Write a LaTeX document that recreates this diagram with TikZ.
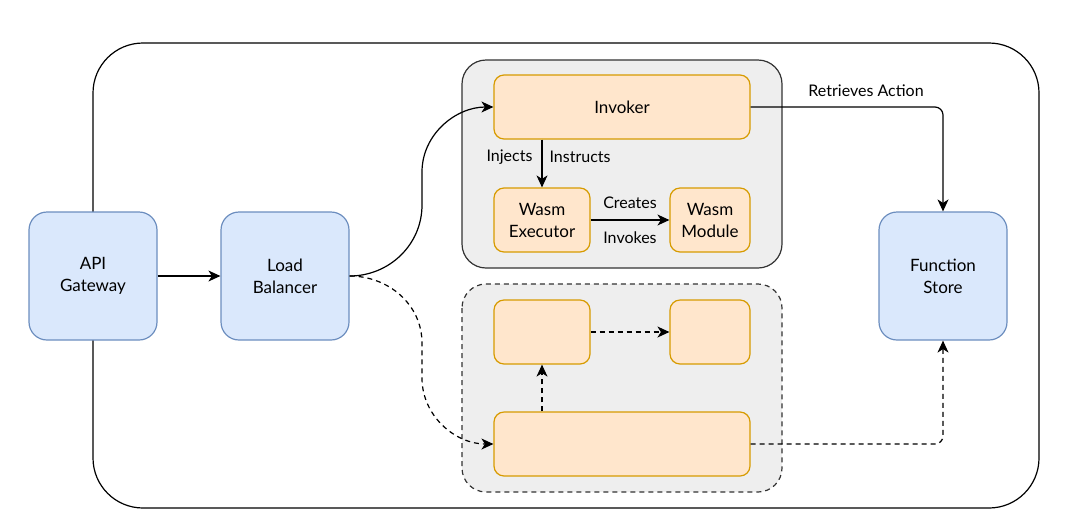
\documentclass[tikz,border=0pt]{standalone}
\usepackage{fontspec}
\setmainfont{Lato}
\usetikzlibrary{arrows.meta}
\definecolor{blueFill}{HTML}{DAE8FC}
\definecolor{blueLine}{HTML}{6C8EBF}
\definecolor{orangeFill}{HTML}{FFE6CC}
\definecolor{orangeLine}{HTML}{D79B00}
\definecolor{groupFill}{HTML}{EEEEEE}
\definecolor{groupLine}{HTML}{333333}
\begin{document}
\begin{tikzpicture}[x=1pt, y=-1pt, line width=1.2pt,
    bluebox/.style = {draw=blueLine, fill=blueFill, rounded corners=18pt, minimum width=128pt, minimum height=128pt, inner sep=0pt, align=center, font=\fontsize{17}{22}\selectfont},
    orangebox/.style = {draw=orangeLine, fill=orangeFill, rounded corners=10pt, minimum height=64pt, inner sep=0pt, align=center, font=\fontsize{17}{22}\selectfont},
    groupbox/.style = {draw=groupLine, fill=groupFill, rounded corners=24pt},
    flow/.style = {-{Stealth[length=12pt, width=11pt, inset=3.5pt]}},
    dashflow/.style = {flow, dash pattern=on 5pt off 4pt},
    lbl/.style = {font=\fontsize{16}{18}\selectfont, inner sep=3pt}]
            \useasboundingbox (0,0) rectangle (1075,523);
            % outer frame and the two groups
            \draw[black, rounded corners=50pt] (93,43) rectangle (1039,508);
            \draw[groupbox] (462,60) rectangle (782,268);
            \draw[groupbox, dash pattern=on 5pt off 4pt] (462,284) rectangle (782,492);
            % nodes
            \node[bluebox] (gw) at (93,276) {API\\Gateway};
            \node[bluebox] (lb) at (285,276) {Load\\Balancer};
            \node[bluebox] (fs) at (943,276) {Function\\Store};
            \node[orangebox, minimum width=256pt] (inv) at (622,107) {Invoker};
            \node[orangebox, minimum width=96pt] (exec) at (542,220) {Wasm\\Executor};
            \node[orangebox, minimum width=80pt] (mod) at (710,220) {Wasm\\Module};
            \node[orangebox, minimum width=96pt] (execB) at (542,332) {};
            \node[orangebox, minimum width=80pt] (modB) at (710,332) {};
            \node[orangebox, minimum width=256pt] (invB) at (622,444) {};
            \coordinate (upbend) at (422,205);
            \coordinate (uptop) at (422,172);
            \coordinate (downbend) at (422,343);
            \coordinate (downlow) at (422,378);
            % connectors
            \draw[flow] (gw) -- (lb);
            \draw[flow] (lb.east) to[out=0, in=-90] (upbend) -- (uptop) to[out=90, in=180] (inv.west);
            \draw[dashflow] (lb.east) to[out=0, in=90] (downbend) -- (downlow) to[out=-90, in=180] (invB.west);
            \draw[flow] (inv.south -| exec.north) -- node[lbl, pos=0.37, left=6pt] {Injects} node[lbl, pos=0.37, right=4pt] {Instructs} (exec.north);
            \draw[flow] (exec) -- node[lbl, above=8pt] {Creates} node[lbl, below=8pt] {Invokes} (mod);
            \draw[flow, rounded corners=8pt] (inv.east) -| node[lbl, pos=0.3, above=7pt] {Retrieves Action} (fs.north);
            \draw[dashflow] (invB.north -| execB.south) -- (execB.south);
            \draw[dashflow] (execB) -- (modB);
            \draw[dashflow, rounded corners=8pt] (invB.east) -| (fs.south);
\end{tikzpicture}
\end{document}
